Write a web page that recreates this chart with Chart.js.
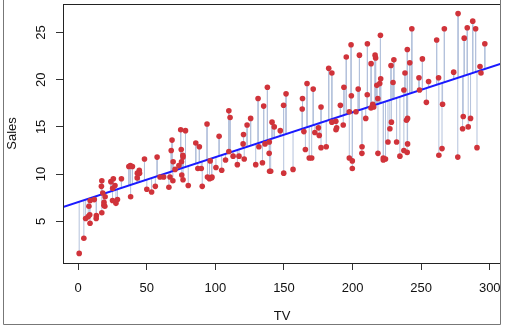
<!DOCTYPE html>
<html lang="en">
<head>
<meta charset="UTF-8">
<title>Sales vs TV</title>
<script src="https://cdn.jsdelivr.net/npm/chart.js"></script>
<style>
  html, body { margin: 0; padding: 0; background: #fff; }
  #wrap { width: 508px; height: 330px; }
</style>
</head>
<body>
<div id="wrap"><canvas id="chart" width="508" height="330"></canvas></div>
<script>
// TV advertising budget (thousands of dollars)
const tv = [
  230.1, 44.5, 17.2, 151.5, 180.8, 8.7, 57.5, 120.2, 8.6, 199.8,
  66.1, 214.7, 23.8, 97.5, 204.1, 195.4, 67.8, 281.4, 69.2, 147.3,
  218.4, 237.4, 13.2, 228.3, 62.3, 262.9, 142.9, 240.1, 248.8, 70.6,
  292.9, 112.9, 97.2, 265.6, 95.7, 290.7, 266.9, 74.7, 43.1, 228,
  202.5, 177, 293.6, 206.9, 25.1, 175.1, 89.7, 239.9, 227.2, 66.9,
  199.8, 100.4, 216.4, 182.6, 262.7, 198.9, 7.3, 136.2, 210.8, 210.7,
  53.5, 261.3, 239.3, 102.7, 131.1, 69, 31.5, 139.3, 237.4, 216.8,
  199.1, 109.8, 26.8, 129.4, 213.4, 16.9, 27.5, 120.5, 5.4, 116,
  76.4, 239.8, 75.3, 68.4, 213.5, 193.2, 76.3, 110.7, 88.3, 109.8,
  134.3, 28.6, 217.7, 250.9, 107.4, 163.3, 197.6, 184.9, 289.7, 135.2,
  222.4, 296.4, 280.2, 187.9, 238.2, 137.9, 25, 90.4, 13.1, 255.4,
  225.8, 241.7, 175.7, 209.6, 78.2, 75.1, 139.2, 76.4, 125.7, 19.4,
  141.3, 18.8, 224, 123.1, 229.5, 87.2, 7.8, 80.2, 220.3, 59.6,
  0.7, 265.2, 8.4, 219.8, 36.9, 48.3, 25.6, 273.7, 43, 184.9,
  73.4, 193.7, 220.5, 104.6, 96.2, 140.3, 240.1, 243.2, 38, 44.7,
  280.7, 121, 197.6, 171.3, 187.8, 4.1, 93.9, 149.8, 11.7, 131.7,
  172.5, 85.7, 188.4, 163.5, 117.2, 234.5, 17.9, 206.8, 215.4, 284.3,
  50, 164.5, 19.6, 168.4, 222.4, 276.9, 248.4, 170.2, 276.7, 165.6,
  156.6, 218.5, 56.2, 287.6, 253.8, 205, 139.5, 191.1, 286, 18.7,
  39.5, 75.5, 17.2, 166.8, 149.7, 38.2, 94.2, 177, 283.6, 232.1
];

// Sales (thousands of units)
const sales = [
  22.1, 10.4, 9.3, 18.5, 12.9, 7.2, 11.8, 13.2, 4.8, 10.6,
  8.6, 17.4, 9.2, 9.7, 19, 22.4, 12.5, 24.4, 11.3, 14.6,
  18, 12.5, 5.6, 15.5, 9.7, 12, 15, 15.9, 18.9, 10.5,
  21.4, 11.9, 9.6, 17.4, 9.5, 12.8, 25.4, 14.7, 10.1, 21.5,
  16.6, 17.1, 20.7, 12.9, 8.5, 14.9, 10.6, 23.2, 14.8, 9.7,
  11.4, 10.7, 22.6, 21.2, 20.2, 23.7, 5.5, 13.2, 23.8, 18.4,
  8.1, 24.2, 15.7, 14, 18, 9.3, 9.5, 13.4, 18.9, 22.3,
  18.3, 12.4, 8.8, 11, 17, 8.7, 6.9, 14.2, 5.3, 11,
  11.8, 12.3, 11.3, 13.6, 21.7, 15.2, 12, 16, 12.9, 16.7,
  11.2, 7.3, 19.4, 22.2, 11.5, 16.9, 11.7, 15.5, 25.4, 17.2,
  11.7, 23.8, 14.8, 14.7, 20.7, 19.2, 7.2, 8.7, 5.3, 19.8,
  13.4, 21.8, 14.1, 15.9, 14.6, 12.6, 12.2, 9.4, 15.9, 6.6,
  15.5, 7, 11.6, 15.2, 19.7, 10.6, 6.6, 8.8, 24.7, 9.7,
  1.6, 12.7, 5.7, 19.6, 10.8, 11.6, 9.5, 20.8, 9.6, 20.7,
  10.9, 19.2, 20.1, 10.4, 11.4, 10.3, 13.2, 25.4, 10.9, 10.1,
  16.1, 11.6, 16.6, 19, 15.6, 3.2, 15.3, 10.1, 7.3, 12.9,
  14.4, 13.3, 14.9, 18, 11.9, 11.9, 8, 12.2, 17.1, 15,
  8.4, 14.5, 7.6, 11.7, 11.5, 27, 20.2, 11.7, 11.8, 12.6,
  10.5, 12.2, 8.7, 26.2, 17.6, 22.6, 10.3, 17.3, 15.9, 6.7,
  10.8, 9.9, 5.9, 19.6, 17.3, 7.6, 9.7, 12.8, 25.5, 13.4
];

const xTicks = [0, 50, 100, 150, 200, 250, 300];
const yTicks = [5, 10, 15, 20, 25];
const xRange = [-11.1, 308.2];
const yRange = [0.584, 28.016];

// least squares fit of sales on tv
const n = tv.length;
const mx = tv.reduce((a, b) => a + b, 0) / n;
const my = sales.reduce((a, b) => a + b, 0) / n;
let sxy = 0, sxx = 0;
for (let i = 0; i < n; i++) {
  sxy += (tv[i] - mx) * (sales[i] - my);
  sxx += (tv[i] - mx) * (tv[i] - mx);
}
const slope = sxy / sxx;
const intercept = my - slope * mx;
const fit = x => intercept + slope * x;

const points = tv.map((x, i) => ({ x: x, y: sales[i] }));
// residual segments, separated by gaps
const segs = [];
tv.forEach((x, i) => {
  segs.push({ x: x, y: sales[i] });
  segs.push({ x: x, y: fit(x) });
  segs.push({ x: x, y: null });
});
const lineData = [{ x: xRange[0], y: fit(xRange[0]) }, { x: xRange[1], y: fit(xRange[1]) }];

const FONT = '"Liberation Sans", Arial, Helvetica, sans-serif';

// box around plot, outer frame, rotated y tick labels (R style)
const rStyle = {
  id: 'rStyle',
  afterDraw(chart) {
    const ctx = chart.ctx;
    const a = chart.chartArea;
    ctx.save();
    ctx.strokeStyle = '#222';
    ctx.lineWidth = 1;
    ctx.strokeRect(Math.round(a.left) + 0.5, Math.round(a.top) + 0.5,
      Math.round(a.right - a.left) - 1, Math.round(a.bottom - a.top));
    ctx.strokeStyle = '#777';
    ctx.beginPath();
    ctx.moveTo(3.5, 0);
    ctx.lineTo(3.5, 324.5);
    ctx.lineTo(500.5, 324.5);
    ctx.lineTo(500.5, 0);
    ctx.stroke();
    const ys = chart.scales.y;
    ctx.fillStyle = '#111';
    ctx.font = '13px ' + FONT;
    ctx.textAlign = 'center';
    ctx.textBaseline = 'middle';
    yTicks.forEach(v => {
      ctx.save();
      ctx.translate(41, ys.getPixelForValue(v));
      ctx.rotate(-Math.PI / 2);
      ctx.fillText(String(v), 0, 0);
      ctx.restore();
    });
    ctx.restore();
  }
};

new Chart(document.getElementById('chart'), {
  type: 'scatter',
  data: {
    datasets: [
      {
        data: points,
        pointRadius: 2.8,
        pointBackgroundColor: '#d0333a',
        pointBorderWidth: 0,
        showLine: false
      },
      {
        type: 'line',
        data: lineData,
        borderColor: '#1a1aff',
        borderWidth: 2,
        pointRadius: 0,
        fill: false
      },
      {
        type: 'line',
        data: segs,
        borderColor: '#b4c2dc',
        borderWidth: 1,
        pointRadius: 0,
        spanGaps: false,
        fill: false
      }
    ]
  },
  options: {
    responsive: false,
    animation: false,
    layout: { padding: { left: 0, top: 3, right: 7, bottom: 0 } },
    plugins: { legend: { display: false }, tooltip: { enabled: false } },
    scales: {
      x: {
        type: 'linear',
        min: xRange[0],
        max: xRange[1],
        afterBuildTicks: s => { s.ticks = xTicks.map(v => ({ value: v })); },
        afterFit: s => { s.height = 67; s.paddingLeft = 0; s.paddingRight = 0; },
        border: { display: false },
        grid: { drawOnChartArea: false, drawTicks: true, tickLength: 7, color: '#333' },
        ticks: { padding: 11, color: '#111', font: { family: FONT, size: 13 }, maxRotation: 0 },
        title: { display: true, text: 'TV', color: '#111', font: { family: FONT, size: 13 }, padding: { top: 0, bottom: 6 } }
      },
      y: {
        type: 'linear',
        min: yRange[0],
        max: yRange[1],
        afterBuildTicks: s => { s.ticks = yTicks.map(v => ({ value: v })); },
        afterFit: s => { s.width = 63; s.paddingTop = 0; s.paddingBottom = 0; },
        border: { display: false },
        grid: { drawOnChartArea: false, drawTicks: true, tickLength: 7, color: '#333' },
        ticks: { display: false },
        title: { display: true, text: 'Sales', color: '#111', font: { family: FONT, size: 13 }, padding: { top: 5, bottom: 0 } }
      }
    }
  },
  plugins: [rStyle]
});
</script>
</body>
</html>
